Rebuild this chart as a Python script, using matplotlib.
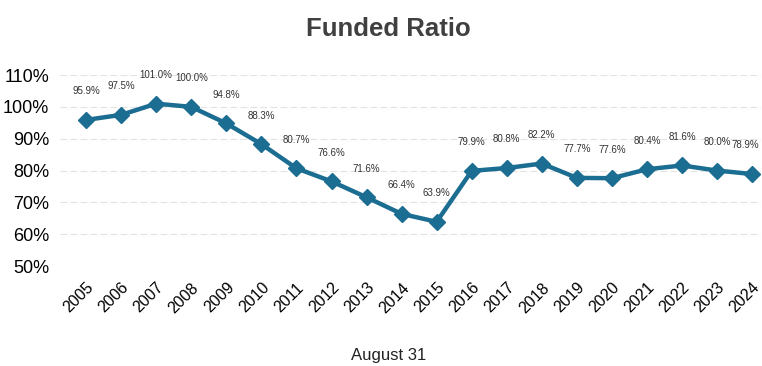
import matplotlib.pyplot as plt
from matplotlib.ticker import FuncFormatter

years = list(range(2005, 2025))
funded = [95.9, 97.5, 101.0, 100.0, 94.8, 88.3, 80.7, 76.6, 71.6, 66.4,
          63.9, 79.9, 80.8, 82.2, 77.7, 77.6, 80.4, 81.6, 80.0, 78.9]

plt.rcParams['font.family'] = ['Liberation Sans', 'DejaVu Sans']

fig = plt.figure(figsize=(7.62, 3.66), dpi=100)
ax = fig.add_axes([0.079, 0.273, 0.92, 0.522])

ax.plot(years, funded, color='#1b6d91', lw=3.2, marker='D', ms=8,
        markeredgecolor='#1b6d91', zorder=3)

# value labels above each point, last one nudged in from the edge
for i, (x, v) in enumerate(zip(years, funded)):
    dx = -5 if i == len(years) - 1 else 0
    ax.annotate(f'{v:.1f}%', (x, v), xytext=(dx, 17), textcoords='offset points',
                ha='center', va='bottom', fontsize=7, color='#333333')

ax.set_xlim(2004.26, 2024.26)
ax.set_ylim(50, 110)
ax.set_yticks(range(50, 111, 10))
ax.yaxis.set_major_formatter(FuncFormatter(lambda v, p: f'{v:.0f}%'))
ax.set_xticks(years)
ax.set_xticklabels([str(y) for y in years], rotation=45, ha='right',
                   rotation_mode='anchor', fontsize=11.5)
ax.tick_params(axis='y', labelsize=13, length=0, pad=8)
ax.tick_params(axis='x', length=0, pad=10)
ax.grid(axis='y', color='#e2e2e2', ls=(0, (6, 3)), lw=0.8)
for s in ax.spines.values():
    s.set_visible(False)

fig.text(0.51, 0.922, 'Funded Ratio', ha='center', va='center',
         fontsize=18.5, fontweight='bold', color='#404040')
fig.text(0.51, 0.03, 'August 31', ha='center', va='center', fontsize=12, color='#222222')

fig.savefig('out.png', dpi=100)
